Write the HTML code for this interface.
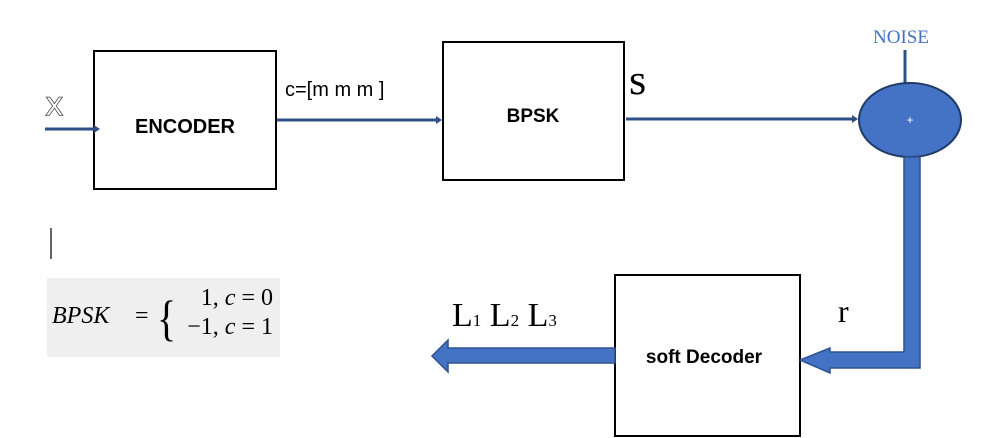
<!DOCTYPE html>
<html><head><meta charset="utf-8"><style>
html,body{margin:0;padding:0;background:#fff;width:990px;height:438px;overflow:hidden}
</style></head><body>
<svg width="990" height="438" viewBox="0 0 990 438" xmlns="http://www.w3.org/2000/svg">
<rect x="94" y="51" width="182" height="138" fill="#fff" stroke="#000" stroke-width="2"/>
<rect x="443" y="42" width="181" height="138" fill="#fff" stroke="#000" stroke-width="2"/>
<rect x="615" y="275" width="185" height="161" fill="#fff" stroke="#000" stroke-width="2"/>
<text x="185" y="133" font-family="Liberation Sans, sans-serif" font-weight="bold" font-size="20" text-anchor="middle">ENCODER</text>
<text x="533" y="122" font-family="Liberation Sans, sans-serif" font-weight="bold" font-size="19" text-anchor="middle">BPSK</text>
<text x="704" y="363" font-family="Liberation Sans, sans-serif" font-weight="bold" font-size="19" text-anchor="middle">soft Decoder</text>
<g stroke="#2f4f86" fill="#2f4f86">
<line x1="45" y1="129" x2="96" y2="129" stroke-width="3"/>
<polygon points="94,125 100,129 94,133" stroke="none"/>
<line x1="277" y1="120" x2="437" y2="120" stroke-width="3"/>
<polygon points="436,116 442,120 436,124" stroke="none"/>
<line x1="626" y1="119" x2="853" y2="119" stroke-width="3"/>
<polygon points="852,115 858,119 852,123" stroke="none"/>
<line x1="905" y1="50" x2="905" y2="84" stroke-width="3"/>
</g>
<ellipse cx="910" cy="120" rx="51" ry="37" fill="#4472c4" stroke="#1f3b66" stroke-width="2"/>
<text x="910" y="124" font-family="Liberation Sans, sans-serif" font-size="12" fill="#fff" text-anchor="middle">+</text>
<path d="M904,157 L920,157 L920,368 L830,368 L830,373 L800,360 L830,348 L830,352 L904,352 Z" fill="#4472c4" stroke="#2f528f" stroke-width="1.5"/>
<path d="M615,348 L448,348 L448,340 L432,356 L448,372 L448,363 L615,363 Z" fill="#4472c4" stroke="#2f528f" stroke-width="1.5"/>
<text x="46" y="115" font-family="Liberation Sans, sans-serif" font-size="25" fill="#fff" stroke="#444" stroke-width="1.6" paint-order="stroke">X</text>
<text x="285" y="96" font-family="Liberation Sans, sans-serif" font-size="20">c=[m m m ]</text>
<text x="629" y="94" font-family="Liberation Serif, serif" font-size="31" stroke="#000" stroke-width="0.5">S</text>
<text x="901" y="43" font-family="Liberation Serif, serif" font-size="19" fill="#4472c4" text-anchor="middle">NOISE</text>
<text x="838" y="322" font-family="Liberation Serif, serif" font-size="32">r</text>
<text x="452" y="326" font-family="Liberation Serif, serif" font-size="34">L<tspan font-size="17">1</tspan> L<tspan font-size="17">2</tspan> L<tspan font-size="17">3</tspan></text>
<line x1="51" y1="228" x2="51" y2="259" stroke="#000" stroke-width="1.2"/>
<rect x="47" y="278" width="233" height="79" fill="#efefef"/>
<text x="52" y="323" font-family="Liberation Serif, serif" font-style="italic" font-size="24">BPSK</text>
<text x="135" y="323" font-family="Liberation Serif, serif" font-size="24">=</text>
<text x="157" y="335" font-family="Liberation Serif, serif" font-size="50" transform="translate(157,0) scale(0.8,1) translate(-157,0)">{</text>
<text x="273" y="305" font-family="Liberation Serif, serif" font-size="24" text-anchor="end">1,  <tspan font-style="italic">c</tspan> = 0</text>
<text x="273" y="334" font-family="Liberation Serif, serif" font-size="24" text-anchor="end">−1,  <tspan font-style="italic">c</tspan> = 1</text>
</svg>
</body></html>
